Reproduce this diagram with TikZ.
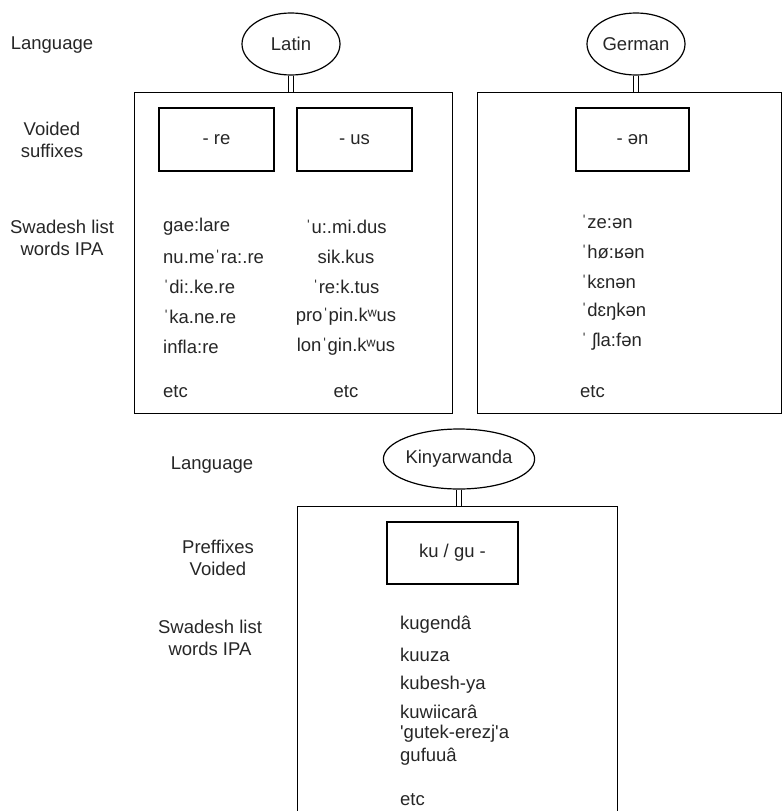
\documentclass[tikz,border=0pt]{standalone}
\usepackage{fontspec}
\setmainfont{Liberation Sans}
\usetikzlibrary{shapes.geometric}
\begin{document}
\begin{tikzpicture}[x=1pt,y=-1pt,
  txt/.style={font=\fontsize{18.5}{22}\selectfont, text=black!85, inner sep=0pt},
  lang/.style={draw, ellipse, line width=1.2pt, minimum width=98pt, minimum height=62pt, inner sep=0pt, txt},
  bigbox/.style={draw, line width=1.2pt, anchor=north west, inner sep=0pt},
  sufbox/.style={draw, line width=1.4pt, minimum width=115pt, minimum height=63pt, inner sep=0pt, txt},
  link/.style={draw, double, double distance=4pt, line width=1pt},
  lbl/.style={txt, align=center},
  word/.style={txt, anchor=west},
  cword/.style={txt},
]
\useasboundingbox (0,0) rectangle (783,811);
\clip (0,0) rectangle (783,811);

% ---------- Latin ----------
\node[lang] (latin) at (291,44) {Latin};
\node[bigbox, minimum width=318pt, minimum height=321pt] (latinbox) at (134,92) {};
\draw[link] (latin.south) -- (latin.south |- latinbox.north);
\node[sufbox] (re) at (216.5,139.5) {- re};
\node[sufbox] (us) at (354.5,139.5) {- us};

\node[word] (l1) at (163,227) {gae:lare};
\node[word] (l2) at (163,257) {nu.meˈra:.re};
\node[word] (l3) at (163,287) {ˈdi:.ke.re};
\node[word] (l4) at (163,317) {ˈka.ne.re};
\node[word] (l5) at (163,347) {infla:re};
\node[word] (l6) at (163,392) {etc};

\node[cword] (r1) at (346,227) {ˈu:.mi.dus};
\node[cword] (r2) at (346,257) {sik.kus};
\node[cword] (r3) at (346,287) {ˈre:k.tus};
\node[cword] (r4) at (346,317) {proˈpin.kʷus};
\node[cword] (r5) at (346,347) {lonˈgin.kʷus};
\node[cword] (r6) at (346,392) {etc};

% ---------- German ----------
\node[lang] (german) at (636,44) {German};
\node[bigbox, minimum width=304pt, minimum height=321pt] (germanbox) at (477,92) {};
\draw[link] (german.south) -- (german.south |- germanbox.north);
\node[sufbox, minimum width=113pt] (en) at (632.5,139.5) {- ən};

\node[word] (g1) at (581,222) {ˈze:ən};
\node[word] (g2) at (581,252) {ˈhø:ʁən};
\node[word] (g3) at (581,282) {ˈkɛnən};
\node[word] (g4) at (581,312) {ˈdɛŋkən};
\node[word] (g5) at (581,342) {ˈ ʃla:fən};
\node[word] (g6) at (580,392) {etc};

% ---------- Kinyarwanda ----------
\node[lang, minimum width=126pt, minimum height=60pt] (kiny) at (459,459) {Kinyarwanda};
\node[bigbox, minimum width=320pt, minimum height=330pt] (kinybox) at (297,506) {};
\draw[link] (kiny.south) -- (kiny.south |- kinybox.north);
\node[sufbox, minimum width=131pt, minimum height=62pt] (kugu) at (452.5,553) {ku / gu -};

\node[word] (k1) at (400,625) {kugendâ};
\node[word] (k2) at (400,655) {kuuza};
\node[word] (k3) at (400,685) {kubesh-ya};
\node[word] (k4) at (400,712) {kuwiicarâ};
\node[word] (k5) at (400,734) {\textquotesingle gutek-erezj\textquotesingle a};
\node[word] (k6) at (400,757) {gufuuâ};
\node[word] (k7) at (400,800) {etc};

% ---------- side labels ----------
\node[lbl] (lang1) at (52,45) {Language};
\node[lbl] (voided) at (52,140) {Voided\\suffixes};
\node[lbl] (swad1) at (62,238) {Swadesh list\\words IPA};
\node[lbl] (lang2) at (212,465) {Language};
\node[lbl] (pref) at (218,558) {Preffixes\\Voided};
\node[lbl] (swad2) at (210,638) {Swadesh list\\words IPA};
\end{tikzpicture}
\end{document}
